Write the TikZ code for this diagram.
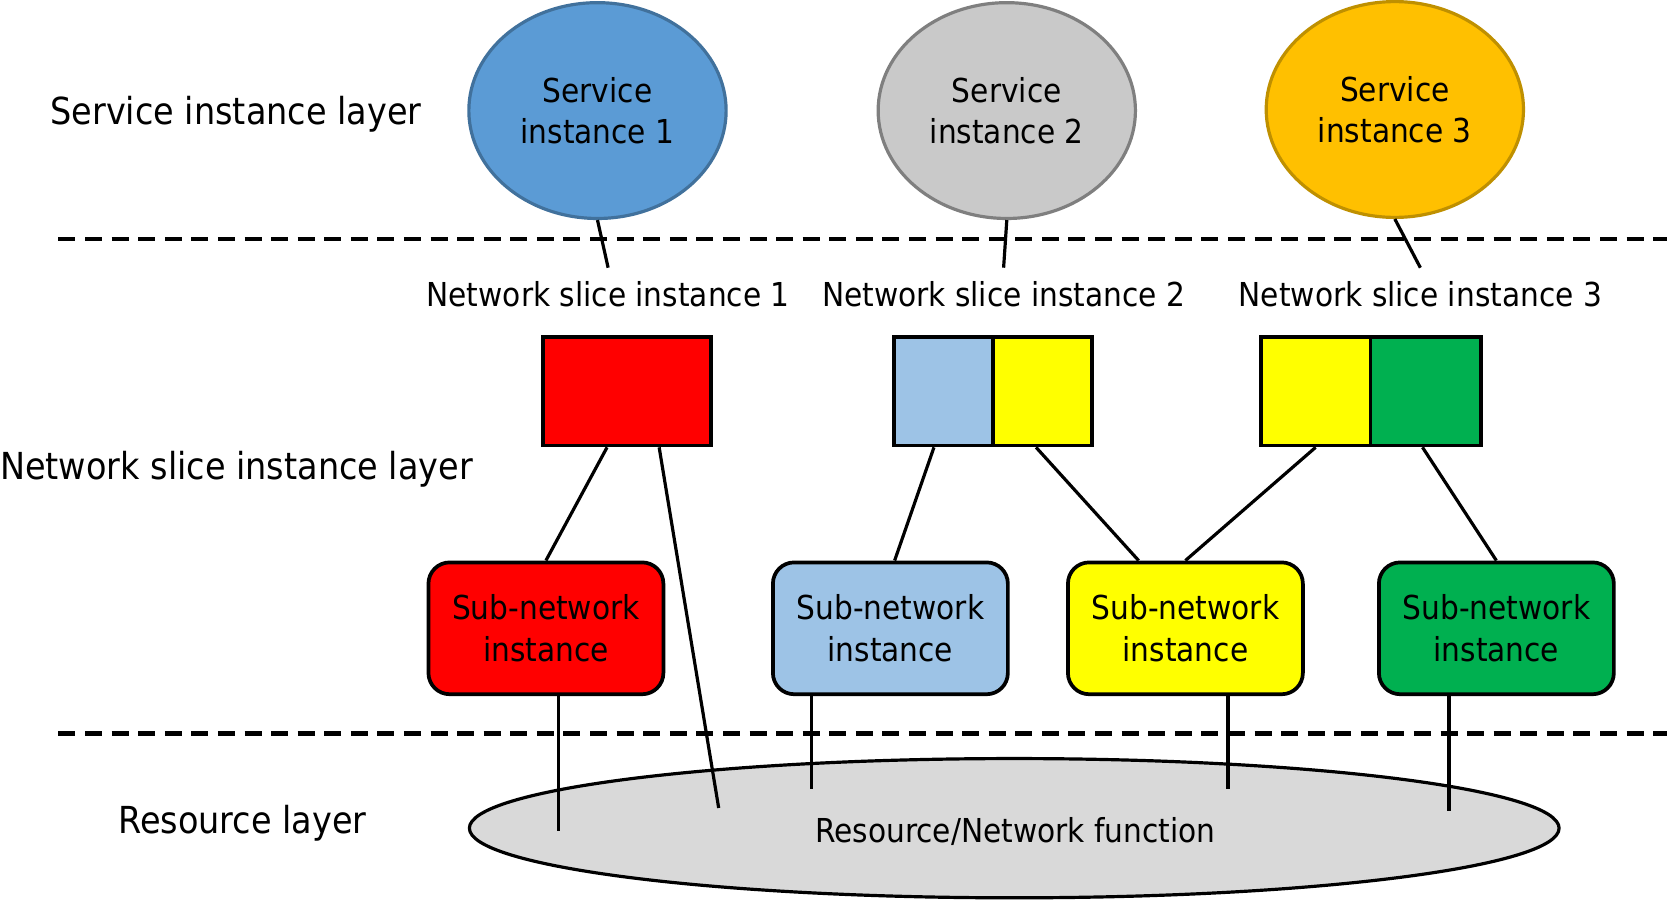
\documentclass[tikz,border=0pt]{standalone}
\usepackage{fontspec}
\setmainfont{DejaVu Sans}
\newfontfamily\condfont[FakeStretch=0.9]{DejaVu Sans}
\usepackage{tikz}
\usetikzlibrary{shapes.geometric}
\usetikzlibrary{positioning}

\definecolor{siblue}{HTML}{5B9BD5}
\definecolor{sibluedark}{HTML}{41719C}
\definecolor{sigrey}{HTML}{C9C9C9}
\definecolor{sigreydark}{HTML}{7F7F7F}
\definecolor{siorange}{HTML}{FFC000}
\definecolor{siorangedark}{HTML}{BF9000}
\definecolor{nsred}{HTML}{FF0000}
\definecolor{nslblue}{HTML}{9DC3E6}
\definecolor{nsyellow}{HTML}{FFFF00}
\definecolor{nsgreen}{HTML}{00B050}
\definecolor{resgrey}{HTML}{D9D9D9}

\tikzset{
  svcnode/.style={ellipse, draw, line width=3pt, minimum width=242pt, minimum height=203pt,
    inner sep=0pt, align=center, font=\condfont\fontsize{31}{39}\selectfont},
  slicelabel/.style={inner xsep=2pt, inner ysep=13pt, font=\condfont\fontsize{31}{39}\selectfont},
  slicebox/.style={draw, line width=3.5pt, minimum height=102pt, inner sep=0pt},
  subnode/.style={draw, line width=3.5pt, rounded corners=20pt, minimum width=221pt,
    minimum height=124pt, inner sep=0pt, align=center, font=\condfont\fontsize{31}{39}\selectfont},
  layerlabel/.style={inner sep=0pt, font=\condfont\fontsize{35}{42}\selectfont},
  link/.style={line width=3pt},
  layerline/.style={line width=4pt, dash pattern=on 16pt off 9pt}
}

\begin{document}
\begin{tikzpicture}[x=1pt, y=-1pt]
  \useasboundingbox (0,0) rectangle (1568,848);

  % layers
  \draw[layerline] (55,225) -- (1568,225);
  \draw[layerline] (55,690) -- (1568,690);
  \node[layerlabel] (lsvc) at (222,107) {Service instance layer};
  \node[layerlabel, anchor=west] (lnsi) at (0,441) {Network slice instance layer};
  \node[layerlabel] (lres) at (228,774) {Resource layer};

  % resources
  \node[ellipse, draw, line width=3pt, fill=resgrey, minimum width=1025pt, minimum height=131pt,
    inner sep=0pt, font=\condfont\fontsize{31}{39}\selectfont] (res) at (954,779) {};
  \node[font=\condfont\fontsize{31}{39}\selectfont] (resl) at (955,782) {Resource/Network function};
  \coordinate (r1) at (525,782);
  \coordinate (r2) at (676,760);
  \coordinate (r3) at (763,742);
  \coordinate (r4) at (1155,742);
  \coordinate (r5) at (1363,763);

  % service instances
  \node[svcnode, fill=siblue, draw=sibluedark] (si1) at (562,104) {Service\\instance 1};
  \node[svcnode, fill=sigrey, draw=sigreydark] (si2) at (947,104) {Service\\instance 2};
  \node[svcnode, fill=siorange, draw=siorangedark] (si3) at (1312,103) {Service\\instance 3};

  \node[slicelabel] (nsl1) at (572,277) {Network slice instance 1};
  \node[slicelabel] (nsl2) at (944,277) {Network slice instance 2};
  \node[slicelabel] (nsl3) at (1336,277) {Network slice instance 3};

  \draw[link] (si1.south) -- (nsl1.north);
  \draw[link] (si2.south) -- (nsl2.north);
  \draw[link] (si3.south) -- (nsl3.north);

  % network slice instances
  \node[slicebox, fill=nsred, minimum width=158pt] (nsi1) at (590,368) {};
  \node[slicebox, fill=nslblue, minimum width=93pt] (nsi2a) at (887.5,368) {};
  \node[slicebox, fill=nsyellow, minimum width=93pt] (nsi2b) at (980.5,368) {};
  \node[slicebox, fill=nsyellow, minimum width=103pt] (nsi3a) at (1237.5,368) {};
  \node[slicebox, fill=nsgreen, minimum width=104pt] (nsi3b) at (1341,368) {};

  % sub-network instances
  \node[subnode, fill=nsred] (sn1) at (513.5,591) {Sub-network\\instance};
  \node[subnode, fill=nslblue] (sn2) at (837.5,591) {Sub-network\\instance};
  \node[subnode, fill=nsyellow] (sn3) at (1115,591) {Sub-network\\instance};
  \node[subnode, fill=nsgreen] (sn4) at (1407.5,591) {Sub-network\\instance};

  \draw[link] ([xshift=-19pt]nsi1.south) -- (sn1.north);
  \draw[link] ([xshift=30pt]nsi1.south) -- (r2);
  \draw[link] ([xshift=-9pt]nsi2a.south) -- ([xshift=4pt]sn2.north);
  \draw[link] ([xshift=-6pt]nsi2b.south) -- ([xshift=-44pt]sn3.north);
  \draw[link] (nsi3a.south) -- (sn3.north);
  \draw[link] ([xshift=-3pt]nsi3b.south) -- (sn4.north);

  \draw[link] (r1 |- sn1.south) -- (r1);
  \draw[link] (r3 |- sn2.south) -- (r3);
  \draw[link] (r4 |- sn3.south) -- (r4);
  \draw[link] (r5 |- sn4.south) -- (r5);
\end{tikzpicture}
\end{document}
